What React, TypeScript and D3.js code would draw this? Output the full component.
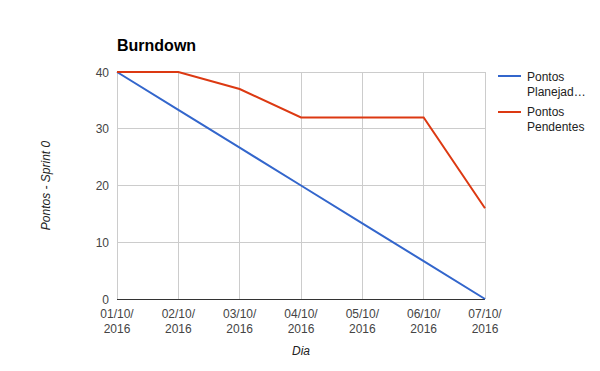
import React from "react";
import * as d3 from "d3";

const categories = ["01/10/2016", "02/10/2016", "03/10/2016", "04/10/2016", "05/10/2016", "06/10/2016", "07/10/2016"];
const planejados = [40, 33.33, 26.67, 20, 13.33, 6.67, 0];
const pendentes = [40, 40, 37, 32, 32, 32, 16];
const yTicks = [0, 10, 20, 30, 40];
const seriesNames = ["Pontos Planejad…", "Pontos Pendentes"];
const seriesLines = [["Pontos", "Planejad…"], ["Pontos", "Pendentes"]];
const colors = ["#3366cc", "#dc3912"];

export default function App() {
  const W = 600, H = 371;
  const left = 117, right = 485, top = 72, bottom = 299;
  const x = d3.scalePoint<string>().domain(categories).range([left, right]);
  const y = d3.scaleLinear().domain([0, 40]).range([bottom, top]);
  const line = d3.line<number>().x((_, i) => x(categories[i])!).y(d => y(d));
  const font = "Arial, 'Liberation Sans', sans-serif";
  const series = [planejados, pendentes];
  return (
    <svg width={W} height={H} style={{ position: "absolute", left: 0, top: 0, background: "#fff" }} fontFamily={font}>
      <rect width={W} height={H} fill="#fff" />
      <text x={left} y={51} fontSize={16} fontWeight="bold" fill="#000">Burndown</text>
      {yTicks.map(t => (
        <g key={t}>
          <line x1={left} x2={right} y1={y(t)} y2={y(t)} stroke="#cccccc" strokeWidth={1} shapeRendering="crispEdges" />
          <text x={left - 8} y={y(t) + 4.5} fontSize={12} textAnchor="end" fill="#444">{t}</text>
        </g>
      ))}
      {categories.map(c => {
        const [a, b] = [c.slice(0, 6), c.slice(6)];
        return (
          <g key={c}>
            <line x1={x(c)} x2={x(c)} y1={top} y2={bottom} stroke="#cccccc" strokeWidth={1} shapeRendering="crispEdges" />
            <text x={x(c)} y={318} fontSize={12} textAnchor="middle" fill="#444">{a}</text>
            <text x={x(c)} y={333} fontSize={12} textAnchor="middle" fill="#444">{b}</text>
          </g>
        );
      })}
      <line x1={left} x2={right} y1={y(0)} y2={y(0)} stroke="#333" strokeWidth={1} shapeRendering="crispEdges" />
      {series.map((s, i) => (
        <path key={i} d={line(s)!} fill="none" stroke={colors[i]} strokeWidth={2} />
      ))}
      <text x={(left + right) / 2} y={355} fontSize={12} fontStyle="italic" textAnchor="middle" fill="#222">Dia</text>
      <text transform={`translate(50,${(top + bottom) / 2}) rotate(-90)`} fontSize={12} fontStyle="italic" textAnchor="middle" fill="#222">Pontos - Sprint 0</text>
      {seriesLines.map((ls, i) => (
        <g key={i}>
          <title>{seriesNames[i]}</title>
          <line x1={498} x2={521} y1={76 + i * 36} y2={76 + i * 36} stroke={colors[i]} strokeWidth={2} />
          {ls.map((t, j) => (
            <text key={j} x={527} y={81 + i * 35 + j * 15} fontSize={12} fill="#222">{t}</text>
          ))}
        </g>
      ))}
    </svg>
  );
}
